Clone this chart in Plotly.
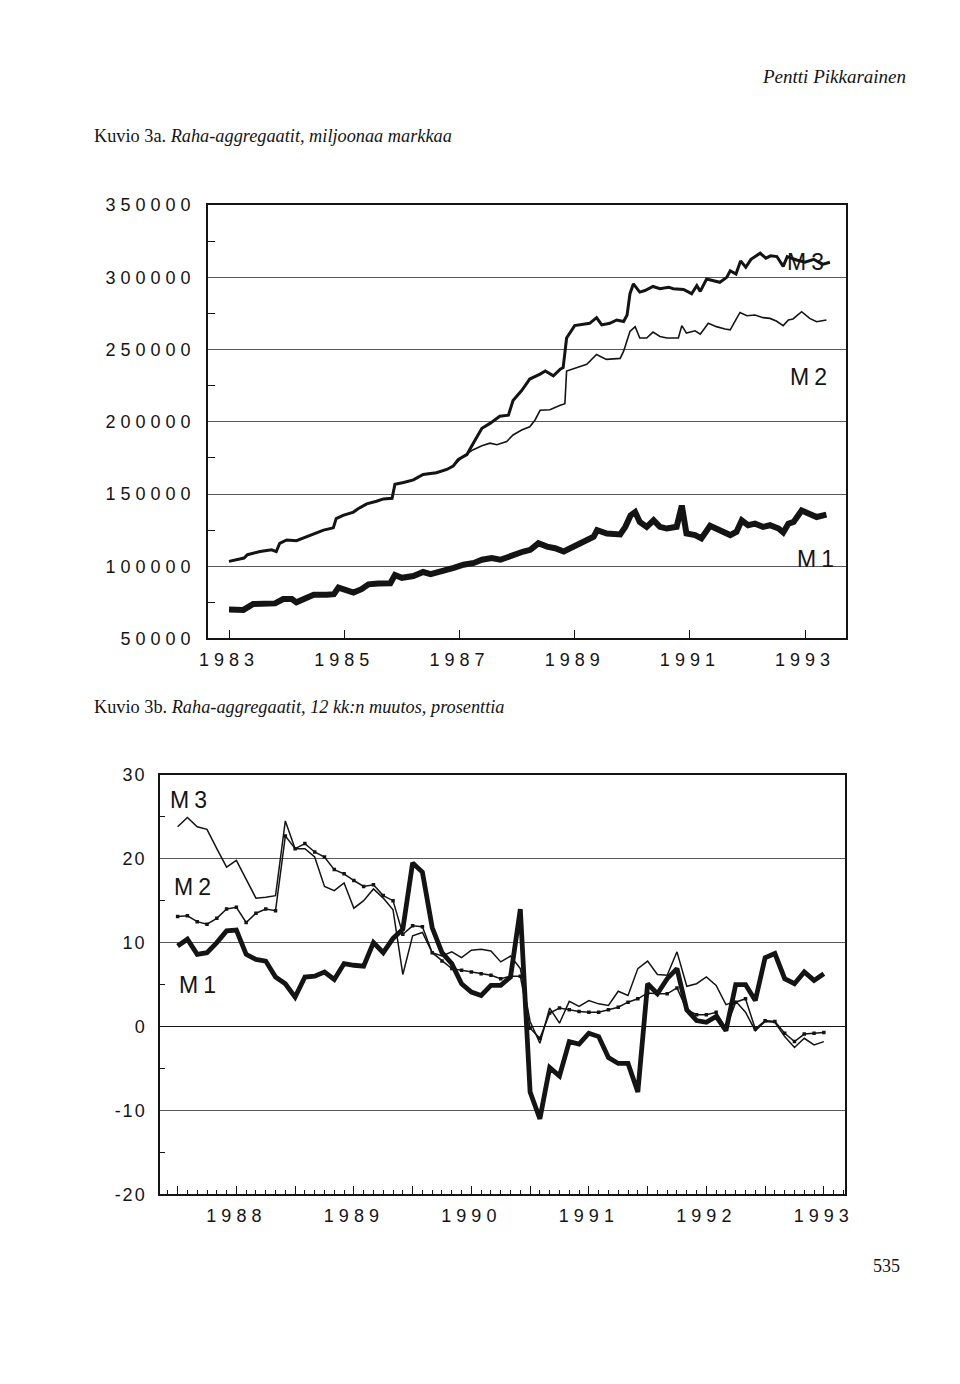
import plotly.graph_objects as go

# ---------------- Kuvio 3a: levels, million markka ----------------
m1_t = [1983.00,1983.10,1983.25,1983.42,1983.60,1983.80,1983.94,1984.09,1984.17,1984.35,1984.47,1984.70,1984.82,1984.90,
        1985.01,1985.16,1985.30,1985.42,1985.59,1985.80,1985.88,1986.00,1986.20,1986.37,1986.50,1986.73,1986.90,
        1987.07,1987.25,1987.39,1987.56,1987.71,1987.85,1988.00,1988.11,1988.23,1988.37,1988.52,1988.66,1988.81,1988.92,
        1989.04,1989.18,1989.33,1989.39,1989.56,1989.79,1989.88,1989.97,1990.05,1990.13,1990.25,1990.37,1990.48,1990.60,
        1990.77,1990.86,1990.94,1991.09,1991.20,1991.35,1991.52,1991.70,1991.81,1991.90,1992.01,1992.13,1992.27,1992.39,
        1992.54,1992.62,1992.71,1992.80,1992.94,1993.08,1993.20,1993.37]
m1_v = [70000,69800,69800,73900,73900,74300,77300,77300,75000,78000,80200,80200,80700,85200,
        84100,81800,84100,87500,88000,88200,93900,92000,93200,96000,94500,96600,98900,
        101100,102300,104500,105700,104500,106800,109100,110200,111400,115900,113600,112500,110200,112500,
        115200,117000,120500,125000,122700,122000,127300,135200,137500,130700,127300,131800,127300,126100,
        127300,142000,122700,121600,119300,128000,125000,121600,123900,131800,128400,129500,127300,128400,
        126100,123400,129500,130700,138600,136400,134100,135700]

m2_t = [1983.00,1983.26,1983.32,1983.54,1983.74,1983.82,1983.88,1984.00,1984.17,1984.35,1984.47,1984.64,1984.81,1984.86,
        1984.98,1985.16,1985.24,1985.39,1985.56,1985.68,1985.83,1985.88,1986.03,1986.20,1986.37,1986.60,1986.78,1986.89,
        1987.06,1987.24,1987.39,1987.53,1987.65,1987.82,1987.93,1988.08,1988.22,1988.31,1988.40,1988.57,1988.75,1988.83,
        1988.86,1989.03,1989.21,1989.38,1989.55,1989.79,1989.85,1989.96,1990.05,1990.13,1990.25,1990.36,1990.48,1990.60,
        1990.80,1990.86,1990.94,1991.09,1991.18,1991.32,1991.46,1991.61,1991.70,1991.78,1991.87,1991.99,1992.13,1992.27,
        1992.39,1992.50,1992.62,1992.71,1992.79,1992.94,1993.08,1993.20,1993.37]
m2_v = [103400,105700,108000,110200,111400,110200,115900,118200,117700,120500,122700,125000,126600,133000,
        135200,137500,139800,143200,145000,146600,147100,156800,158000,159800,163600,164800,167000,169300,
        176100,180700,183400,185200,184100,186400,190900,194300,196600,201100,208000,208400,211400,212500,
        235200,237500,239800,246600,243200,243900,248900,262500,265900,258000,258000,262100,259100,258000,
        258000,266600,261400,263000,260700,268200,265900,264300,263700,269300,275700,273400,273900,272100,
        271600,269800,266600,270500,271200,276200,271600,269300,270500]

m3_t = [1983.00,1983.26,1983.32,1983.54,1983.74,1983.82,1983.88,1984.00,1984.17,1984.35,1984.47,1984.64,1984.81,1984.86,
        1984.98,1985.16,1985.24,1985.39,1985.56,1985.68,1985.83,1985.88,1986.03,1986.20,1986.37,1986.60,1986.78,1986.89,
        1986.98,1987.13,1987.24,1987.39,1987.53,1987.70,1987.85,1987.93,1988.08,1988.22,1988.40,1988.49,1988.63,1988.75,
        1988.80,1988.86,1989.00,1989.15,1989.26,1989.38,1989.47,1989.61,1989.73,1989.85,1989.91,1989.96,1990.02,1990.13,
        1990.22,1990.36,1990.48,1990.63,1990.71,1990.89,1991.03,1991.12,1991.18,1991.29,1991.41,1991.52,1991.64,1991.70,
        1991.80,1991.88,1991.97,1992.06,1992.22,1992.32,1992.40,1992.51,1992.62,1992.69,1992.85,1993.00,1993.15,1993.30,
        1993.43]
m3_v = [103400,105700,108000,110200,111400,110200,115900,118200,117700,120500,122700,125000,126600,133000,
        135200,137500,139800,143200,145000,146600,147100,156800,158000,159800,163600,164800,167000,169300,
        173900,177300,185200,195500,198900,203900,204600,214800,221600,229600,233000,235200,231800,236400,
        237500,258000,266600,267500,268200,272100,267100,268200,270500,269400,273900,288700,295500,289800,
        290900,293700,292100,293200,292100,291600,288700,294300,290300,298900,297800,296600,300000,304600,
        302300,311400,307000,312500,316700,313300,314900,314400,307600,314400,312000,310500,312500,309000,
        310500]

top_years = [1983, 1985, 1987, 1989, 1991, 1993]
top_yvals = [50000, 100000, 150000, 200000, 250000, 300000, 350000]

# ---------------- Kuvio 3b: 12-month change, percent (monthly, 1987:7 -> 1993:1) ----------------
g_start = 1987.5
g_m1 = [9.6, 10.4, 8.6, 8.8, 10.0, 11.4, 11.5, 8.6, 8.0, 7.8, 5.9, 5.1, 3.5, 5.9, 6.0, 6.5, 5.6, 7.5, 7.3, 7.2,
        10.0, 8.8, 10.5, 11.6, 19.5, 18.4, 11.8, 8.8, 7.5, 5.1, 4.1, 3.7, 4.9, 4.9, 5.9, 14.0,
        -7.8, -11.0, -4.9, -5.9, -1.8, -2.1, -0.8, -1.2, -3.7, -4.4, -4.4, -7.8,
        5.1, 3.9, 5.7, 6.9, 2.0, 0.7, 0.5, 1.2, -0.5, 5.0, 5.0, 3.1, 8.2, 8.7, 5.7, 5.1, 6.5, 5.5, 6.3]
g_m2 = [13.1, 13.2, 12.5, 12.2, 12.9, 14.0, 14.2, 12.4, 13.5, 14.0, 13.8, 22.7, 21.2, 21.8, 20.8, 20.2, 18.7, 18.2,
        17.4, 16.7, 16.9, 15.6, 15.0, 11.0, 12.0, 11.9, 8.8, 7.8, 6.9, 6.7, 6.5, 6.3, 6.1, 5.7, 6.0, 6.0,
        -0.2, -1.4, 1.6, 2.2, 2.0, 1.8, 1.7, 1.7, 2.0, 2.3, 2.9, 3.3, 4.0, 3.9, 3.9, 4.6, 2.0, 1.4, 1.4, 1.7,
        -0.2, 2.9, 3.3, -0.3, 0.7, 0.6, -0.8, -1.8, -0.9, -0.8, -0.7]
g_m3 = [23.8, 24.9, 23.8, 23.5, 21.2, 19.0, 19.8, 17.5, 15.3, 15.4, 15.6, 24.5, 21.2, 21.2, 20.2, 16.7, 16.2, 17.1,
        14.1, 15.0, 16.4, 15.3, 13.9, 6.2, 10.8, 11.2, 8.8, 8.4, 8.9, 8.2, 9.1, 9.2, 9.0, 7.7, 8.4, 6.9,
        0.6, -2.0, 2.2, 0.4, 3.0, 2.4, 3.1, 2.7, 2.5, 4.2, 3.7, 6.9, 7.8, 6.2, 6.1, 8.9, 4.8, 5.1, 5.9, 4.9,
        2.6, 3.0, 1.7, -0.5, 0.6, 0.5, -1.2, -2.5, -1.4, -2.2, -1.8]
bot_years = [1988, 1989, 1990, 1991, 1992, 1993]
bot_yvals = [-20, -10, 0, 10, 20, 30]

g_t = [g_start + i / 12 for i in range(len(g_m1))]

W, H = 960, 1384
def px(x):
    return x / W
def py(y):
    return 1 - y / H

INK = "#141414"
SANS = "Liberation Sans, Arial, sans-serif"
SERIF = "Liberation Serif, Times New Roman, serif"

fig = go.Figure()

# top chart
fig.add_trace(go.Scatter(x=m2_t, y=m2_v, mode="lines", line=dict(color=INK, width=1.6),
                         xaxis="x", yaxis="y", showlegend=False, hoverinfo="skip"))
fig.add_trace(go.Scatter(x=m3_t, y=m3_v, mode="lines", line=dict(color=INK, width=3),
                         xaxis="x", yaxis="y", showlegend=False, hoverinfo="skip"))
fig.add_trace(go.Scatter(x=m1_t, y=m1_v, mode="lines", line=dict(color=INK, width=6),
                         xaxis="x", yaxis="y", showlegend=False, hoverinfo="skip"))

# bottom chart
fig.add_trace(go.Scatter(x=g_t, y=g_m3, mode="lines", line=dict(color=INK, width=1.5),
                         xaxis="x2", yaxis="y2", showlegend=False, hoverinfo="skip"))
fig.add_trace(go.Scatter(x=g_t, y=g_m2, mode="lines+markers", line=dict(color=INK, width=1.5),
                         marker=dict(symbol="square", size=3.5, color=INK),
                         xaxis="x2", yaxis="y2", showlegend=False, hoverinfo="skip"))
fig.add_trace(go.Scatter(x=g_t, y=g_m1, mode="lines", line=dict(color=INK, width=4.8),
                         xaxis="x2", yaxis="y2", showlegend=False, hoverinfo="skip"))

tickfont = dict(family=SANS, size=18, color=INK)
frame = dict(showline=True, linecolor=INK, linewidth=1.5, mirror=True)

fig.update_layout(
    width=W, height=H, autosize=False,
    margin=dict(l=0, r=0, t=0, b=0),
    paper_bgcolor="white", plot_bgcolor="white",
    xaxis=dict(domain=[px(208), px(846)], range=[1982.635, 1993.71],
               tickvals=top_years, ticktext=[str(y) for y in top_years],
               ticks="inside", ticklen=9, tickwidth=1, tickcolor=INK,
               showgrid=False, zeroline=False, tickfont=tickfont, ticklabelstandoff=4,
               anchor="y", **frame),
    yaxis=dict(domain=[py(637.7), py(198)], range=[50000, 350000],
               tickvals=top_yvals, ticktext=[str(v) for v in top_yvals],
               ticks="", showgrid=True, gridcolor="#5a5a5a", gridwidth=1, zeroline=False,
               minor=dict(ticks="inside", ticklen=7, tickcolor=INK, tick0=25000, dtick=50000, showgrid=False),
               tickfont=tickfont, ticklabelstandoff=7, anchor="x", **frame),
    xaxis2=dict(domain=[px(160), px(845)], range=[1987.35, 1993.18],
                tickvals=[1987.5 + k * 0.5 for k in range(12)],
                ticktext=["" if k % 2 == 0 else str(int(1987.5 + k * 0.5)) for k in range(12)],
                ticks="inside", ticklen=9, tickwidth=1, tickcolor=INK,
                minor=dict(ticks="inside", ticklen=5, tickcolor=INK, tick0=1987.5, dtick=1 / 12, showgrid=False),
                showgrid=False, zeroline=False, tickfont=tickfont, ticklabelstandoff=4,
                anchor="y2", **frame),
    yaxis2=dict(domain=[py(1201.7), py(776)], range=[-20, 30],
                tickvals=bot_yvals, ticktext=[str(v) for v in bot_yvals],
                ticks="", showgrid=True, gridcolor="#5a5a5a", gridwidth=1,
                zeroline=True, zerolinecolor=INK, zerolinewidth=1.4,
                minor=dict(ticks="inside", ticklen=5, tickcolor=INK, tick0=-15, dtick=10, showgrid=False),
                tickfont=tickfont, ticklabelstandoff=8, anchor="x2", **frame),
)

lab = dict(family=SANS, size=23, color=INK)
ann = [
    dict(x=1993.05, y=310300, xref="x", yref="y", text="M3", showarrow=False, font=lab),
    dict(x=1993.10, y=231200, xref="x", yref="y", text="M2", showarrow=False, font=lab),
    dict(x=1993.23, y=105000, xref="x", yref="y", text="M1", showarrow=False, font=lab),
    dict(x=1987.61, y=27.0, xref="x2", yref="y2", text="M3", showarrow=False, font=lab),
    dict(x=1987.65, y=16.6, xref="x2", yref="y2", text="M2", showarrow=False, font=lab),
    dict(x=1987.69, y=4.9, xref="x2", yref="y2", text="M1", showarrow=False, font=lab),
    dict(x=px(908), y=py(67), xref="paper", yref="paper", xanchor="right", yanchor="middle",
         text="<i>Pentti Pikkarainen</i>", showarrow=False, font=dict(family=SERIF, size=19, color=INK)),
    dict(x=px(92), y=py(128), xref="paper", yref="paper", xanchor="left", yanchor="middle",
         text="Kuvio 3a. <i>Raha-aggregaatit, miljoonaa markkaa</i>", showarrow=False,
         font=dict(family=SERIF, size=18.3, color=INK)),
    dict(x=px(92), y=py(707), xref="paper", yref="paper", xanchor="left", yanchor="middle",
         text="Kuvio 3b. <i>Raha-aggregaatit, 12 kk:n muutos, prosenttia</i>", showarrow=False,
         font=dict(family=SERIF, size=18.3, color=INK)),
    dict(x=px(902), y=py(1274), xref="paper", yref="paper", xanchor="right", yanchor="middle",
         text="535", showarrow=False, font=dict(family=SERIF, size=18, color=INK)),
]
fig.update_layout(annotations=ann)

post = """
(function(){
  document.documentElement.style.margin='0';
  document.body.style.margin='0';
  document.body.style.padding='0';
  document.body.style.overflow='hidden';
  function apply(){
    document.querySelectorAll('.xtick text, .ytick text, .x2tick text').forEach(function(t){
      t.style.letterSpacing='5px';
    });
    document.querySelectorAll('.y2tick text').forEach(function(t){
      t.style.letterSpacing='2px';
    });
    document.querySelectorAll('.annotation-text').forEach(function(t){
      if(/^M\\d$/.test(t.textContent)) t.style.letterSpacing='5px';
    });
  }
  apply();
  var gd = document.getElementById('{plot_id}');
  if (gd && gd.on) { gd.on('plotly_afterplot', apply); }
})();
"""

fig.write_html("out.html", post_script=post, config={"displayModeBar": False})
